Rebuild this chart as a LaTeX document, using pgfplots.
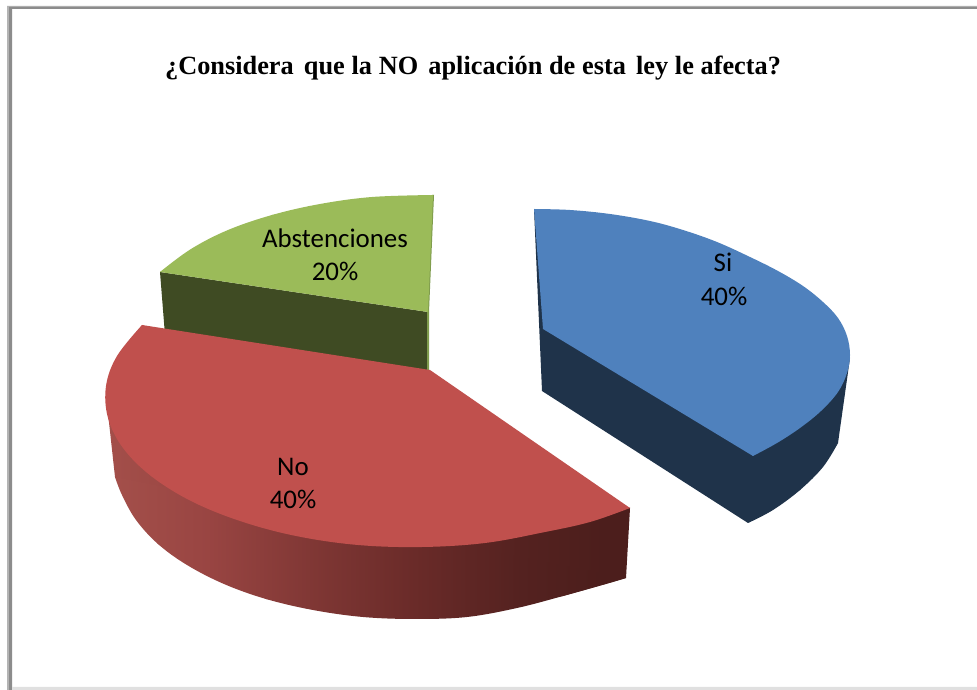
\documentclass[border=0pt]{standalone}
\usepackage{pgfplots}
\pgfplotsset{compat=1.18}
\usepackage{fontspec}
\setmainfont{Carlito}
\newfontfamily\titlefont{Liberation Serif}
\definecolor{blueTop}{HTML}{4F81BD}
\definecolor{blueSide}{HTML}{1F334A}
\definecolor{redTop}{HTML}{C0504D}
\definecolor{greenTop}{HTML}{9BBB59}
\definecolor{greenSide}{HTML}{3F4B23}
\definecolor{greenEdge}{HTML}{7F9C4D}
\definecolor{frameDark}{HTML}{8C8C8C}
\definecolor{frameLight}{HTML}{B4B4B4}
\pgfdeclarehorizontalshading{redwallshade}{100bp}{
  rgb(0bp)=(0.64,0.31,0.29);
  rgb(25bp)=(0.64,0.31,0.29);
  rgb(34bp)=(0.60,0.27,0.26);
  rgb(45.5bp)=(0.49,0.21,0.20);
  rgb(55bp)=(0.41,0.165,0.157);
  rgb(64.6bp)=(0.33,0.133,0.125);
  rgb(72bp)=(0.30,0.118,0.11);
  rgb(100bp)=(0.30,0.118,0.11)
}
\newcommand{\lbl}{\fontsize{27}{30}\selectfont}
\tikzset{rim/.style={smooth, tension=0.6}}
\begin{document}
\begin{tikzpicture}
\begin{axis}[
  width=977bp, height=690bp, scale only axis,
  xmin=0, xmax=977, ymin=0, ymax=690, y dir=reverse,
  hide axis, clip=true,
]
% sheet and frame
\addplot[draw=none, fill=white] coordinates {(0,0) (977,0) (977,690) (0,690) (0,0)};
\addplot[draw=none, fill=frameLight] coordinates {(7,6) (977,6) (977,7) (9,7) (9,690) (7,690) (7,6)};
\addplot[draw=none, fill=frameDark] coordinates {(9,7) (977,7) (977,9) (12,9) (12,690) (9,690) (9,7)};
\addplot[draw=none, fill=black!12] coordinates {(12,687) (977,687) (977,690) (12,690) (12,687)};
% Abstenciones: wall, edge and top face
\addplot[draw=none, fill=greenSide] coordinates {(160,272) (428,312) (429,372) (165,335) (160,272)};
\addplot[draw=none, fill=greenEdge] coordinates {(434,195) (429,312) (429,370) (427,370) (427,312) (432,195) (434,195)};
\addplot[draw=none, fill=greenTop] coordinates {(160,272) (272,215) (433,195) (428,312) (160,272)};
\addplot[draw=none, fill=greenTop, rim] coordinates {(160,272) (191,249) (228,230) (272,215) (320,204) (372,197) (433,195)};
% No: wall and top face
\addplot[draw=none, shading=redwallshade] coordinates {(106,395) (115,477) (158,544) (266,599) (415,619) (563,596) (626,578) (630,508) (106,395)};
\addplot[draw=none, shading=redwallshade, rim] coordinates {(115,477) (122,495) (136,520) (158,544) (187,565) (224,584) (266,599) (313,610) (363,617) (415,619) (467,617) (517,608) (563,596) (606,584) (626,578)};
\addplot[draw=none, fill=redTop] coordinates {(142,325) (106,386) (151,476) (422,547) (630,508) (430,370) (142,325)};
\addplot[draw=none, fill=redTop, rim] coordinates {(142,325) (117,356) (106,386) (108,418) (123,448) (151,476) (191,501) (240,521) (296,536) (358,545) (422,547) (485,543) (545,532) (590,522) (630,508)};
% Si: wall and top face
\addplot[draw=none, fill=blueSide] coordinates {(534,209) (542,391) (748,523) (800,490) (838,443) (850,358) (534,209)};
\addplot[draw=none, fill=blueSide, rim] coordinates {(838,443) (823,467) (800,490) (773,510) (748,523)};
\addplot[draw=none, fill=blueTop] coordinates {(534,209) (850,355) (753,456) (543,329) (534,209)};
\addplot[draw=none, fill=blueTop, rim] coordinates {(534,209) (570,210) (610,214) (650,221) (683,230) (717,242) (750,257) (778,271) (803,286) (823,302) (838,318) (847,336) (850,355) (847,373) (838,392) (821,411) (800,428) (777,443) (753,456)};
% title and data labels
\node[font=\titlefont\bfseries\fontsize{26.4}{30}\selectfont, anchor=base west, inner sep=0pt] at (axis cs:165,75)
  {\spaceskip=6.7bp ¿Considera\hspace{3.5bp} que la NO\hspace{3.5bp} aplicación de esta\hspace{3.5bp} ley le afecta?};
\node[font=\lbl] at (axis cs:335,238) {Abstenciones};
\node[font=\lbl] at (axis cs:335,271) {20\%};
\node[font=\lbl] at (axis cs:293,467) {No};
\node[font=\lbl] at (axis cs:293,499) {40\%};
\node[font=\lbl] at (axis cs:723,262) {Si};
\node[font=\lbl] at (axis cs:724,296) {40\%};
\end{axis}
\end{tikzpicture}
\end{document}
